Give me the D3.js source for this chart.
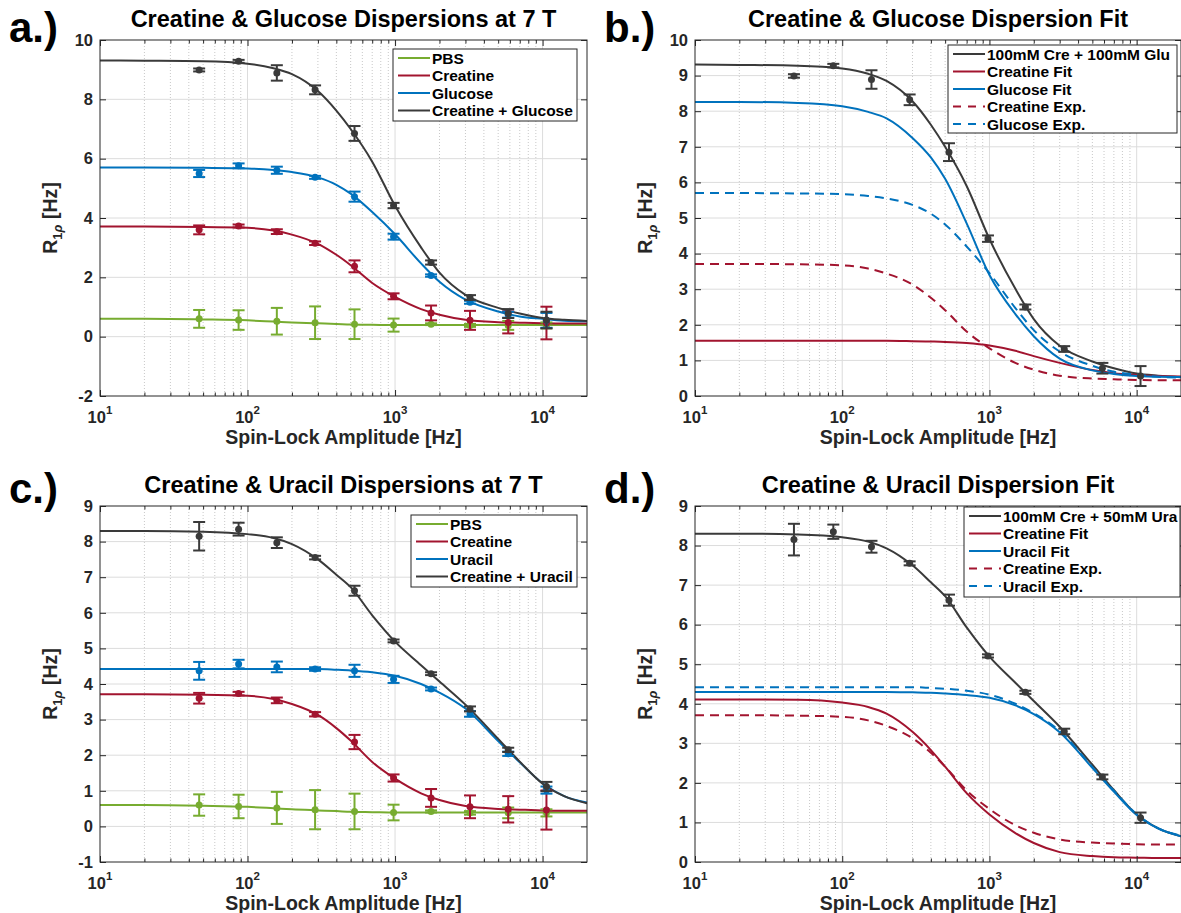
<!DOCTYPE html>
<html>
<head>
<meta charset="utf-8">
<script src="https://cdn.jsdelivr.net/npm/d3@7"></script>
<style>
    body { margin: 0; background: #fff; }
    svg { display: block; font-family: "Liberation Sans", Arial, Helvetica, sans-serif; font-weight: bold; }
</style>
</head>
<body>
<div id="fig"></div>
<script>
// spin-lock amplitudes of the measured points [Hz]
var freqHz = [47, 87, 158, 287, 531, 977, 1754, 3221, 5848, 10620];

// measured R1rho [Hz] and error bars
var pbsMean = [0.60, 0.56, 0.52, 0.47, 0.42, 0.39, 0.42, 0.38, 0.38, 0.38];
var pbsErr = [0.30, 0.33, 0.45, 0.55, 0.50, 0.22, 0.03, 0.05, 0.15, 0.10];
var creMean = [3.60, 3.73, 3.54, 3.15, 2.37, 1.36, 0.80, 0.55, 0.48, 0.46];
var creErr = [0.15, 0.05, 0.08, 0.06, 0.20, 0.10, 0.25, 0.32, 0.37, 0.55];
var gluMean = [5.50, 5.76, 5.61, 5.37, 4.72, 3.37, 2.06, 1.16, 0.74, 0.55];
var gluErr = [0.12, 0.08, 0.12, 0.05, 0.17, 0.10, 0.04, 0.05, 0.10, 0.25];
var creGluMean = [8.99, 9.28, 8.89, 8.32, 6.85, 4.42, 2.50, 1.32, 0.78, 0.56];
var creGluErr = [0.05, 0.05, 0.26, 0.15, 0.25, 0.09, 0.07, 0.08, 0.15, 0.28];
var uraMean = [4.37, 4.56, 4.48, 4.42, 4.37, 4.13, 3.86, 3.16, 2.04, 1.02];
var uraErr = [0.25, 0.12, 0.15, 0.05, 0.17, 0.10, 0.04, 0.08, 0.06, 0.10];
var creUraMean = [8.15, 8.35, 7.97, 7.55, 6.62, 5.21, 4.29, 3.30, 2.15, 1.12];
var creUraErr = [0.40, 0.18, 0.15, 0.05, 0.14, 0.04, 0.04, 0.07, 0.06, 0.13];

// fitted dispersion curves at these amplitudes
var curveHz = [10, 20, 50, 100, 150, 200, 300, 400, 500, 700, 1000, 1500, 2000, 3000, 5000, 7000, 10000, 14000, 20000];
var pbsCurve = [0.60, 0.60, 0.58, 0.55, 0.51, 0.48, 0.45, 0.43, 0.41, 0.40, 0.39, 0.39, 0.39, 0.39, 0.39, 0.39, 0.39, 0.39, 0.39];
var creCurve = [3.71, 3.71, 3.70, 3.67, 3.58, 3.44, 3.13, 2.76, 2.41, 1.81, 1.34, 0.93, 0.74, 0.57, 0.49, 0.47, 0.45, 0.44, 0.44];
var gluCurve = [5.70, 5.70, 5.69, 5.67, 5.62, 5.55, 5.37, 5.12, 4.82, 4.20, 3.45, 2.47, 1.85, 1.25, 0.85, 0.68, 0.60, 0.54, 0.52];
var creGluCurve = [9.31, 9.30, 9.28, 9.20, 9.05, 8.85, 8.28, 7.62, 7.00, 5.90, 4.41, 3.01, 2.16, 1.41, 0.97, 0.78, 0.63, 0.57, 0.53];
var uraCurve = [4.42, 4.42, 4.42, 4.42, 4.42, 4.42, 4.42, 4.40, 4.38, 4.33, 4.23, 4.00, 3.76, 3.31, 2.40, 1.80, 1.21, 0.85, 0.67];
var creUraCurve = [8.30, 8.30, 8.28, 8.21, 8.10, 7.93, 7.50, 7.07, 6.72, 5.93, 5.19, 4.53, 4.07, 3.42, 2.46, 1.82, 1.20, 0.85, 0.65];
var creFitGlu = [1.55, 1.55, 1.55, 1.55, 1.55, 1.55, 1.54, 1.53, 1.52, 1.49, 1.42, 1.27, 1.12, 0.93, 0.73, 0.64, 0.59, 0.56, 0.55];
var gluFit = [8.26, 8.26, 8.23, 8.14, 7.98, 7.80, 7.25, 6.70, 6.10, 4.85, 3.40, 2.30, 1.68, 1.05, 0.72, 0.62, 0.56, 0.54, 0.53];
var creFitUra = [4.11, 4.11, 4.10, 4.03, 3.92, 3.75, 3.29, 2.83, 2.41, 1.74, 1.20, 0.73, 0.48, 0.25, 0.15, 0.12, 0.11, 0.10, 0.10];
var uraFit = [4.30, 4.30, 4.30, 4.30, 4.30, 4.30, 4.29, 4.28, 4.26, 4.22, 4.15, 3.96, 3.74, 3.28, 2.38, 1.78, 1.19, 0.85, 0.65];

// axis ticks and labels
var xMajorTicks = [10, 100, 1000, 10000];
var yTicksA = [-2, 0, 2, 4, 6, 8, 10];
var yTicksB = [0, 1, 2, 3, 4, 5, 6, 7, 8, 9, 10];
var yTicksC = [-1, 0, 1, 2, 3, 4, 5, 6, 7, 8, 9];
var yTicksD = [0, 1, 2, 3, 4, 5, 6, 7, 8, 9];

var titles = ["Creatine & Glucose Dispersions at 7 T", "Creatine & Glucose Dispersion Fit",
              "Creatine & Uracil Dispersions at 7 T", "Creatine & Uracil Dispersion Fit"];
var legendA = ["PBS", "Creatine", "Glucose", "Creatine + Glucose"];
var legendB = ["100mM Cre + 100mM Glu", "Creatine Fit", "Glucose Fit", "Creatine Exp.", "Glucose Exp."];
var legendC = ["PBS", "Creatine", "Uracil", "Creatine + Uracil"];
var legendD = ["100mM Cre + 50mM Ura", "Creatine Fit", "Uracil Fit", "Creatine Exp.", "Uracil Exp."];

var GREEN = "#77AC30", RED = "#A2142F", BLUE = "#0072BD", DARK = "#3a3a3a", AXIS = "#262626";

var svg = d3.select("#fig").append("svg").attr("width", 1181).attr("height", 913);

function pts(xs, ys) { return xs.map((v, i) => [v, ys[i]]); }

function drawPanel(p) {
    var x = d3.scaleLog().domain([10, 20000]).range([p.left, p.right]);
    var y = d3.scaleLinear().domain([p.yTicks[0], p.yTicks[p.yTicks.length - 1]]).range([p.bottom, p.top]);
    var g = svg.append("g");

    var clipId = "clip-" + p.key;
    g.append("clipPath").attr("id", clipId).append("rect")
        .attr("x", p.left).attr("y", p.top)
        .attr("width", p.right - p.left).attr("height", p.bottom - p.top);

    var minorX = x.ticks().filter(v => xMajorTicks.indexOf(v) < 0 && v > 10 && v < 20000);

    // grid
    var grid = g.append("g");
    grid.selectAll(".gminor").data(minorX).enter().append("line")
        .attr("x1", d => x(d)).attr("x2", d => x(d))
        .attr("y1", p.top).attr("y2", p.bottom)
        .attr("stroke", "#c8c8c8").attr("stroke-width", 1).attr("stroke-dasharray", "1,2");
    grid.selectAll(".gmajor").data(xMajorTicks.slice(1)).enter().append("line")
        .attr("x1", d => x(d)).attr("x2", d => x(d))
        .attr("y1", p.top).attr("y2", p.bottom)
        .attr("stroke", "#dcdcdc").attr("stroke-width", 1);
    grid.selectAll(".gy").data(p.yTicks.slice(1, -1)).enter().append("line")
        .attr("x1", p.left).attr("x2", p.right)
        .attr("y1", d => y(d)).attr("y2", d => y(d))
        .attr("stroke", "#dcdcdc").attr("stroke-width", 1);

    // curves
    var line = d3.line().x(d => x(d[0])).y(d => y(d[1])).curve(d3.curveMonotoneX);
    var plot = g.append("g").attr("clip-path", "url(#" + clipId + ")");
    p.curves.forEach(c => {
        plot.append("path")
            .attr("d", line(pts(curveHz, c.values)))
            .attr("fill", "none")
            .attr("stroke", c.color)
            .attr("stroke-width", 2)
            .attr("stroke-dasharray", c.dashed ? "9,6" : null);
    });

    // error bars
    p.points.forEach(s => {
        var eg = plot.append("g").attr("stroke", s.color).attr("fill", s.color);
        freqHz.forEach((f, i) => {
            var cx = x(f), lo = y(s.mean[i] - s.err[i]), hi = y(s.mean[i] + s.err[i]);
            eg.append("line").attr("x1", cx).attr("x2", cx).attr("y1", lo).attr("y2", hi).attr("stroke-width", 2);
            eg.append("line").attr("x1", cx - 6).attr("x2", cx + 6).attr("y1", lo).attr("y2", lo).attr("stroke-width", 2);
            eg.append("line").attr("x1", cx - 6).attr("x2", cx + 6).attr("y1", hi).attr("y2", hi).attr("stroke-width", 2);
            eg.append("circle").attr("cx", cx).attr("cy", y(s.mean[i])).attr("r", 3.5).attr("stroke", "none");
        });
    });

    // axes (ticks point inward)
    var ax = g.append("g").attr("font-family", null).attr("font-size", null);
    ax.append("g").attr("transform", `translate(${p.left},0)`)
        .call(d3.axisLeft(y).tickValues(p.yTicks).tickSize(-6).tickPadding(7).tickFormat(d => String(d)));
    ax.append("g").attr("transform", `translate(${p.right},0)`)
        .call(d3.axisRight(y).tickValues(p.yTicks).tickSize(-6).tickFormat(""));
    ax.append("g").attr("transform", `translate(0,${p.bottom})`)
        .call(d3.axisBottom(x).tickValues(xMajorTicks).tickSize(-6).tickFormat(""));
    ax.append("g").attr("transform", `translate(0,${p.bottom})`)
        .call(d3.axisBottom(x).tickValues(minorX).tickSize(-3.5).tickFormat(""));
    ax.append("g").attr("transform", `translate(0,${p.top})`)
        .call(d3.axisTop(x).tickValues(xMajorTicks).tickSize(-6).tickFormat(""));
    ax.append("g").attr("transform", `translate(0,${p.top})`)
        .call(d3.axisTop(x).tickValues(minorX).tickSize(-3.5).tickFormat(""));
    ax.selectAll(".domain").remove();
    ax.selectAll(".tick line").attr("stroke", AXIS);
    ax.selectAll(".tick text").attr("fill", AXIS).style("font-size", "16.5px").style("font-weight", "bold");

    g.append("rect")
        .attr("x", p.left).attr("y", p.top)
        .attr("width", p.right - p.left).attr("height", p.bottom - p.top)
        .attr("fill", "none").attr("stroke", AXIS).attr("stroke-width", 1);

    // x tick labels 10^n
    xMajorTicks.forEach(v => {
        var t = g.append("text").attr("x", x(v)).attr("y", p.bottom + 27)
            .attr("text-anchor", "middle").attr("fill", AXIS).style("font-size", "16.5px");
        t.append("tspan").text("10");
        t.append("tspan").attr("dy", -9).style("font-size", "11.5px").text(Math.round(Math.log10(v)));
    });

    // axis titles
    g.append("text").attr("x", (p.left + p.right) / 2).attr("y", p.bottom + 48)
        .attr("text-anchor", "middle").attr("fill", AXIS).style("font-size", "19.5px")
        .text("Spin-Lock Amplitude [Hz]");
    var yl = g.append("text")
        .attr("transform", `translate(${p.left - 43},${(p.top + p.bottom) / 2}) rotate(-90)`)
        .attr("text-anchor", "middle").attr("fill", AXIS).style("font-size", "19.5px");
    yl.append("tspan").text("R");
    yl.append("tspan").attr("dy", 5).style("font-size", "13px").text("1");
    yl.append("tspan").style("font-size", "13px").style("font-style", "italic").text("\u03C1");
    yl.append("tspan").attr("dy", -5).text(" [Hz]");

    // panel title and letter
    g.append("text").attr("x", (p.left + p.right) / 2).attr("y", p.top - 13)
        .attr("text-anchor", "middle").attr("fill", "#000").style("font-size", "23.5px").text(p.title);
    g.append("text").attr("x", p.left - 91).attr("y", p.letterY)
        .attr("fill", "#000").style("font-size", "42px").text(p.letter);

    // legend
    var L = p.legend;
    var lg = g.append("g");
    lg.append("rect").attr("x", L.x).attr("y", L.y).attr("width", L.w).attr("height", L.h)
        .attr("fill", "#fff").attr("stroke", AXIS).attr("stroke-width", 1);
    L.items.forEach((it, i) => {
        var cy = L.y + 9 + i * 17.5;
        lg.append("line").attr("x1", L.x + 5).attr("x2", L.x + 37).attr("y1", cy).attr("y2", cy)
            .attr("stroke", it.color).attr("stroke-width", 2)
            .attr("stroke-dasharray", it.dashed ? "8,7" : null);
        lg.append("text").attr("x", L.x + 39).attr("y", cy + 5.5).attr("fill", "#000")
            .style("font-size", "15.5px").text(it.label);
    });
}

var panels = [
    {
        key: "a", letter: "a.)", title: titles[0], left: 100, right: 587, top: 40, bottom: 396, letterY: 42,
        yTicks: yTicksA,
        curves: [
            { values: pbsCurve, color: GREEN }, { values: creCurve, color: RED },
            { values: gluCurve, color: BLUE }, { values: creGluCurve, color: DARK }
        ],
        points: [
            { mean: pbsMean, err: pbsErr, color: GREEN }, { mean: creMean, err: creErr, color: RED },
            { mean: gluMean, err: gluErr, color: BLUE }, { mean: creGluMean, err: creGluErr, color: DARK }
        ],
        legend: { x: 393, y: 49, w: 184, h: 72, items: legendA.map((l, i) => ({ label: l, color: [GREEN, RED, BLUE, DARK][i] })) }
    },
    {
        key: "b", letter: "b.)", title: titles[1], left: 695, right: 1181, top: 40, bottom: 396, letterY: 42,
        yTicks: yTicksB,
        curves: [
            { values: creGluCurve, color: DARK }, { values: creFitGlu, color: RED },
            { values: gluFit, color: BLUE }, { values: creCurve, color: RED, dashed: true },
            { values: gluCurve, color: BLUE, dashed: true }
        ],
        points: [{ mean: creGluMean, err: creGluErr, color: DARK }],
        legend: { x: 948, y: 45, w: 229, h: 88, items: legendB.map((l, i) => ({ label: l, color: [DARK, RED, BLUE, RED, BLUE][i], dashed: i > 2 })) }
    },
    {
        key: "c", letter: "c.)", title: titles[2], left: 100, right: 587, top: 506, bottom: 862, letterY: 503,
        yTicks: yTicksC,
        curves: [
            { values: pbsCurve, color: GREEN }, { values: creCurve, color: RED },
            { values: uraCurve, color: BLUE }, { values: creUraCurve, color: DARK }
        ],
        points: [
            { mean: pbsMean, err: pbsErr, color: GREEN }, { mean: creMean, err: creErr, color: RED },
            { mean: uraMean, err: uraErr, color: BLUE }, { mean: creUraMean, err: creUraErr, color: DARK }
        ],
        legend: { x: 411, y: 515, w: 166, h: 72, items: legendC.map((l, i) => ({ label: l, color: [GREEN, RED, BLUE, DARK][i] })) }
    },
    {
        key: "d", letter: "d.)", title: titles[3], left: 695, right: 1181, top: 506, bottom: 862, letterY: 503,
        yTicks: yTicksD,
        curves: [
            { values: creUraCurve, color: DARK }, { values: creFitUra, color: RED },
            { values: uraFit, color: BLUE }, { values: creCurve, color: RED, dashed: true },
            { values: uraCurve, color: BLUE, dashed: true }
        ],
        points: [{ mean: creUraMean, err: creUraErr, color: DARK }],
        legend: { x: 964, y: 507, w: 216, h: 90, items: legendD.map((l, i) => ({ label: l, color: [DARK, RED, BLUE, RED, BLUE][i], dashed: i > 2 })) }
    }
];

panels.forEach(drawPanel);
</script>
</body>
</html>
